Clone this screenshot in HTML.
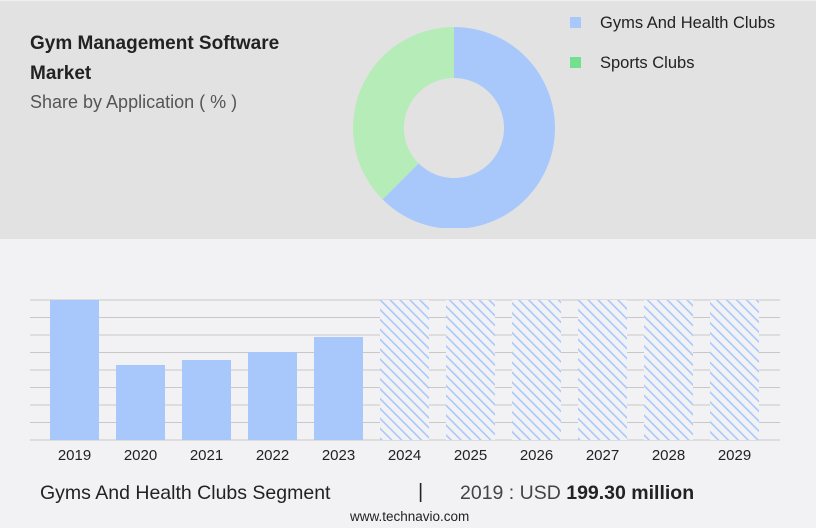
<!DOCTYPE html>
<html><head><meta charset="utf-8"><style>
body{margin:0;width:816px;height:528px;background:#f2f2f4;font-family:"Liberation Sans",sans-serif;position:relative;overflow:hidden}
.top{position:absolute;left:0;top:0;width:816px;height:238px;background:#e2e2e2;border-top:1px solid #f0f0f0}
.t{position:absolute;color:#222;white-space:nowrap}
</style></head><body>
<div class="top"></div>
<div class="t" style="left:30px;top:29px;font-size:19px;font-weight:bold;line-height:30px">Gym Management Software<br>Market</div>
<div class="t" style="left:30px;top:92px;font-size:18px;color:#555">Share by Application ( % )</div>
<svg id="donut" width="816" height="238" style="position:absolute;left:0;top:0"></svg>
<div style="position:absolute;left:570px;top:14px;font-size:16.5px;color:#222"><span style="display:inline-block;width:11px;height:11px;background:#a8c8fc;margin-right:19px"></span>Gyms And Health Clubs</div>
<div style="position:absolute;left:570px;top:54px;font-size:16.5px;color:#222"><span style="display:inline-block;width:11px;height:11px;background:#72e08e;margin-right:19px"></span>Sports Clubs</div>
<svg id="bars" width="816" height="480" style="position:absolute;left:0;top:0">
<defs><pattern id="hatch" patternUnits="userSpaceOnUse" width="7" height="7" patternTransform="rotate(-45)"><rect width="7" height="7" fill="#f2f2f4"/><rect x="0" width="1.6" height="7" fill="#a8c8fc"/></pattern></defs>
</svg>
<div class="t" style="left:40px;top:482px;font-size:19.5px">Gyms And Health Clubs Segment</div>
<div class="t" style="left:418px;top:481px;font-size:20px">|</div>
<div class="t" style="left:460px;top:482px;font-size:19.5px;color:#444">2019 : USD <b style="color:#222">199.30 million</b></div>
<div class="t" style="left:350px;top:509px;font-size:13.5px">www.technavio.com</div>
<script>
const shareLabels=["Gyms And Health Clubs","Sports Clubs"];
const shareValues=[62.5,37.5];
const shareColors=["#a8c8fc","#b6ecb8"];
const years=["2019","2020","2021","2022","2023","2024","2025","2026","2027","2028","2029"];
const values=[199.3,106.8,113.9,125.3,146.6,null,null,null,null,null,null];
const forecast=[false,false,false,false,false,true,true,true,true,true,true];
(function(){
const NS="http://www.w3.org/2000/svg";
function mk(t,a,p){const e=document.createElementNS(NS,t);for(const k in a)e.setAttribute(k,a[k]);p.appendChild(e);return e;}
const d=document.getElementById('donut');const cx=454,cy=128,R=101,r=50;
const tot=shareValues.reduce((a,b)=>a+b,0);let a0=0;
shareValues.forEach((v,i)=>{const a1=a0+v/tot*2*Math.PI;
const p=(ang,rr)=>[cx+rr*Math.sin(ang),cy-rr*Math.cos(ang)];
const [x1,y1]=p(a0,R),[x2,y2]=p(a1,R),[x3,y3]=p(a1,r),[x4,y4]=p(a0,r);const lg=(a1-a0)>Math.PI?1:0;
const s=mk('path',{d:`M${x1},${y1}A${R},${R} 0 ${lg} 1 ${x2},${y2}L${x3},${y3}A${r},${r} 0 ${lg} 0 ${x4},${y4}Z`,fill:shareColors[i]},d);


a0=a1;});
mk('rect',{x:340,y:228,width:240,height:10,fill:'#e2e2e2'},d);
const b=document.getElementById('bars');const base=440,yTop=300,maxV=199.3;
const y=v=>base-(v/maxV)*(base-yTop);const x=i=>50+i*66;const bw=49;
for(let k=0;k<=8;k++){const gy=yTop+k*(base-yTop)/8;const g=mk('line',{x1:30,x2:780,y1:gy,y2:gy,stroke:'#c8c8c8','stroke-width':1},b);

}
years.forEach((yr,i)=>{const v=forecast[i]?maxV:values[i];
const rc=mk('rect',{x:x(i),y:y(v),width:bw,height:base-y(v),fill:forecast[i]?'url(#hatch)':'#a8c8fc'},b);


const t=mk('text',{x:x(i)+bw/2,y:460,'text-anchor':'middle','font-size':15,fill:'#222'},b);t.textContent=yr;

});
})();
</script>
</body></html>
